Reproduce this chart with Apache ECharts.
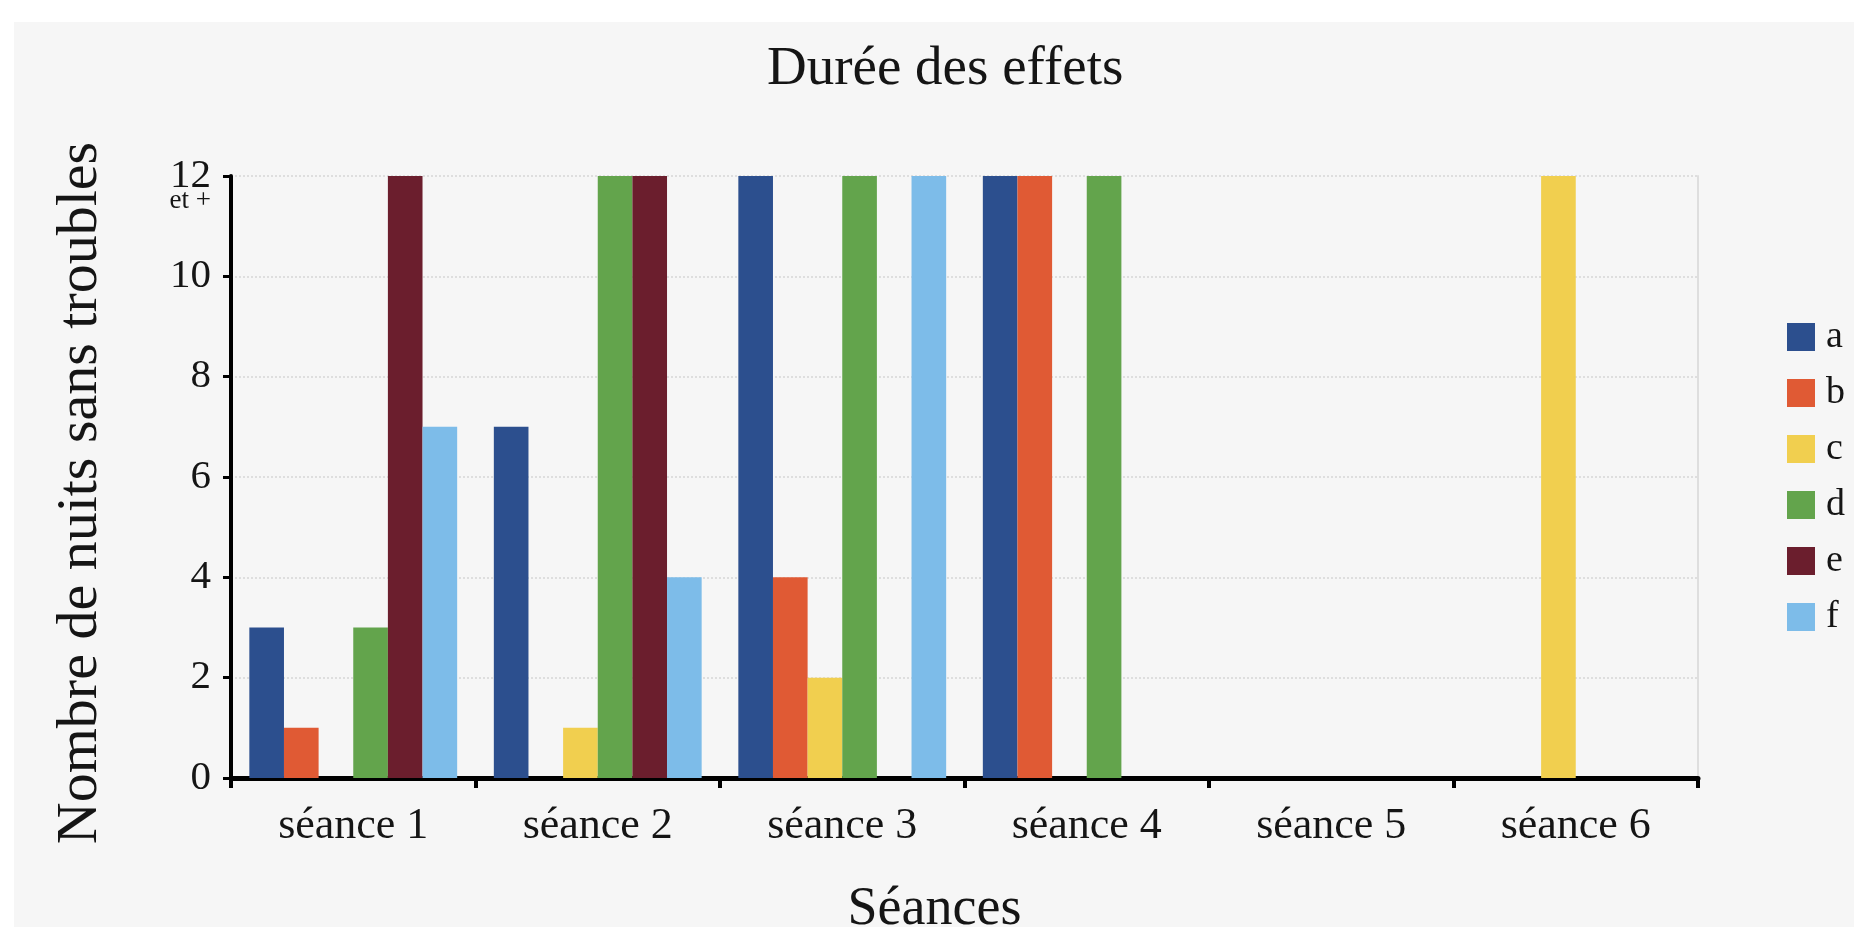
<!DOCTYPE html>
<html>
<head>
<meta charset="utf-8">
<script src="https://cdn.jsdelivr.net/npm/echarts@6/dist/echarts.min.js"></script>
<style>
html,body{margin:0;padding:0;background:#ffffff;width:1854px;height:927px;overflow:hidden;}
#chart{position:absolute;left:14px;top:22px;width:1840px;height:905px;background:#f6f6f6;}
</style>
</head>
<body>
<div id="chart"></div>
<script>
const categories = ['séance 1','séance 2','séance 3','séance 4','séance 5','séance 6'];
const seriesNames = ['a','b','c','d','e','f'];
const valuesA = [3, 7, 12, 12, 0, 0];
const valuesB = [1, 0, 4, 12, 0, 0];
const valuesC = [0, 1, 2, 0, 0, 12];
const valuesD = [3, 12, 12, 12, 0, 0];
const valuesE = [12, 12, 0, 0, 0, 0];
const valuesF = [7, 4, 12, 0, 0, 0];
const yTicks = [0, 2, 4, 6, 8, 10, 12];

const colors = ['#2c4f8e', '#e05a34', '#f1cf4f', '#63a44c', '#6b1e2d', '#7dbce9'];
const allValues = [valuesA, valuesB, valuesC, valuesD, valuesE, valuesF];
const FONT = "'Liberation Serif', 'DejaVu Serif', serif";
const TXT = '#151515';

const chart = echarts.init(document.getElementById('chart'), null, {renderer: 'canvas'});
chart.setOption({
  animation: false,
  color: colors,
  textStyle: {fontFamily: FONT, color: TXT},
  title: {
    text: 'Durée des effets',
    left: 753,
    top: 20,
    padding: 0,
    textStyle: {fontFamily: FONT, fontSize: 55, fontWeight: 'normal', color: TXT}
  },
  legend: {
    orient: 'vertical',
    left: 1768,
    top: 291,
    icon: 'rect',
    itemWidth: 28,
    itemHeight: 28,
    itemGap: 18,
    data: seriesNames,
    textStyle: {fontFamily: FONT, fontSize: 38, color: TXT, padding: [0, 0, 4, 6]}
  },
  grid: {left: 217, right: 156, top: 154, bottom: 149, containLabel: false, outerBoundsMode: 'none'},
  xAxis: {
    type: 'category',
    data: categories,
    name: 'Séances',
    nameLocation: 'middle',
    nameGap: 105,
    nameTextStyle: {fontFamily: FONT, fontSize: 54, color: TXT, padding: [0, 60, 0, 0]},
    axisLine: {lineStyle: {color: '#000', width: 5}},
    axisTick: {show: true, length: 10, lineStyle: {color: '#000', width: 4}},
    axisLabel: {fontFamily: FONT, fontSize: 44, color: TXT, margin: 26},
    splitLine: {show: false}
  },
  yAxis: [{
    type: 'value',
    min: 0,
    max: 12,
    interval: 2,
    name: 'Nombre de nuits sans troubles',
    nameLocation: 'middle',
    nameRotate: 90,
    nameGap: 121,
    nameTextStyle: {fontFamily: FONT, fontSize: 58, color: TXT, padding: [0, 32, 0, 0]},
    axisLine: {show: true, lineStyle: {color: '#000', width: 4}},
    axisTick: {show: true, length: 8, lineStyle: {color: '#000', width: 3}},
    axisLabel: {
      fontFamily: FONT, fontSize: 41, color: TXT, margin: 20,
      formatter: function (v) {
        if (v === yTicks[yTicks.length - 1]) {
          return '{s|\u00a0}\n{n|' + v + '}\n{e|et +}';
        }
        return String(v);
      },
      rich: {
        s: {fontSize: 12, lineHeight: 16, fontFamily: FONT, align: 'right'},
        n: {fontSize: 41, lineHeight: 34, fontFamily: FONT, color: TXT, align: 'right'},
        e: {fontSize: 27, lineHeight: 16, fontFamily: FONT, color: TXT, align: 'right'}
      }
    },
    splitLine: {show: true, lineStyle: {color: '#d6d6d6', width: 1.5, type: [2, 2]}}
  }, {
    type: 'value',
    min: 0,
    max: 12,
    interval: 2,
    position: 'right',
    axisLine: {show: true, lineStyle: {color: '#dedede', width: 2}},
    axisTick: {show: false},
    axisLabel: {show: false},
    splitLine: {show: false}
  }],
  series: seriesNames.map((n, i) => ({
    name: n,
    type: 'bar',
    data: allValues[i],
    barGap: '0%',
    barCategoryGap: '15%',
    itemStyle: {color: colors[i]}
  }))
});
</script>
</body>
</html>
